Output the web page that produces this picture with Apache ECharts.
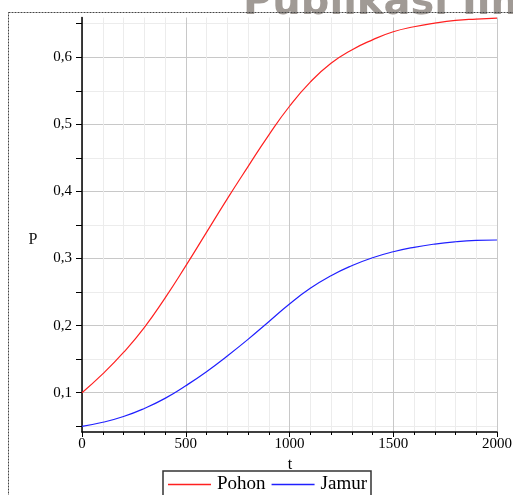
<!DOCTYPE html>
<html>
<head>
<meta charset="utf-8">
<script src="https://cdn.jsdelivr.net/npm/echarts@6.0.0/dist/echarts.min.js"></script>
<style>
html,body{margin:0;padding:0;background:#fff;}
#chart{width:513px;height:495px;}
</style>
</head>
<body>
<div id="chart"></div>
<script>
const tValues = [0,100,200,300,400,500,600,700,800,900,1000,1100,1200,1300,1400,1500,1600,1700,1800,1900,2000];
const pohon = [0.100,0.128,0.160,0.197,0.241,0.289,0.339,0.389,0.437,0.484,0.527,0.563,0.591,0.611,0.626,0.638,0.6455,0.651,0.655,0.657,0.6585];
const jamur = [0.0498,0.0559,0.0645,0.0765,0.0915,0.1104,0.1313,0.1547,0.1795,0.2058,0.2322,0.2556,0.2744,0.2893,0.3012,0.3101,0.3167,0.3216,0.3250,0.3270,0.3276];
const yLabelValues = [0.1,0.2,0.3,0.4,0.5,0.6];
const yTickValues = [0.05,0.1,0.15,0.2,0.25,0.3,0.35,0.4,0.45,0.5,0.55,0.6,0.65];
const seriesNames = ['Pohon','Jamur'];

const chart = echarts.init(document.getElementById('chart'), null, {renderer:'canvas'});
const serif = 'Liberation Serif';
const option = {
  backgroundColor:'#ffffff',
  animation:false,
  grid:{left:82,right:16,top:17.5,bottom:63,containLabel:false,outerBoundsMode:'none'},
  xAxis:{
    type:'value', min:0, max:2000, interval:500,
    axisLine:{show:true,onZero:false,lineStyle:{color:'#000',width:1.5}},
    axisTick:{show:true,length:5,lineStyle:{color:'#000',width:1}},
    minorTick:{show:true,splitNumber:5,length:3,lineStyle:{color:'#000',width:1}},
    splitLine:{show:true,lineStyle:{color:'#c8c8c8',width:1}},
    minorSplitLine:{show:true,lineStyle:{color:'#ececec',width:1}},
    axisLabel:{color:'#000',fontFamily:serif,fontSize:15,margin:5,hideOverlap:false,
      formatter:function(v){return String(v);}}
  },
  yAxis:{
    type:'value', min:0.0414, max:0.6593,
    axisLine:{show:true,onZero:false,lineStyle:{color:'#000',width:1.5}},
    axisTick:{show:true,length:6,customValues:yTickValues,lineStyle:{color:'#000',width:1}},
    splitLine:{show:true,lineStyle:{color:['#ececec','#c8c8c8'],width:1}},
    axisLabel:{color:'#000',fontFamily:serif,fontSize:15,margin:10,customValues:yLabelValues,
      formatter:function(v){return v.toFixed(1).replace('.',',');}}
  },
  legend:{
    data:[{name:seriesNames[0],icon:'rect'},{name:seriesNames[1],icon:'rect'}],
    left:163, top:471,
    itemWidth:43, itemHeight:1.5, itemGap:6,
    padding:[4,4,6,5],
    borderColor:'#333', borderWidth:1.5,
    textStyle:{color:'#000',fontFamily:serif,fontSize:19,padding:[0,0,0,1]}
  },
  graphic:[
    {type:'text', left:243, top:-16, z:-1, style:{text:'Publikasi Ilm', fill:'#a09a95', font:'bold 40px "DejaVu Sans"'}},
    {type:'rect', shape:{x:8.5,y:12.5,width:700,height:700}, z:10, silent:true,
      style:{fill:'none',stroke:'#444',lineWidth:1,lineDash:[2,1]}},
    {type:'text', x:290, y:465, style:{text:'t', fill:'#000', font:'16px "Liberation Serif"', textAlign:'center', textVerticalAlign:'middle'}},
    {type:'text', x:33, y:240, style:{text:'P', fill:'#111', font:'16px "Liberation Serif"', textAlign:'center', textVerticalAlign:'middle'}}
  ],
  series:[
    {name:seriesNames[0], type:'line', smooth:0.5, showSymbol:false, symbol:'none',
     data:tValues.map((t,i)=>[t,pohon[i]]), lineStyle:{color:'#ff2020',width:1.2}, itemStyle:{color:'#ff2020'}},
    {name:seriesNames[1], type:'line', smooth:0.5, showSymbol:false, symbol:'none',
     data:tValues.map((t,i)=>[t,jamur[i]]), lineStyle:{color:'#2020ff',width:1.2}, itemStyle:{color:'#2020ff'}}
  ]
};
chart.setOption(option);
</script>
</body>
</html>
